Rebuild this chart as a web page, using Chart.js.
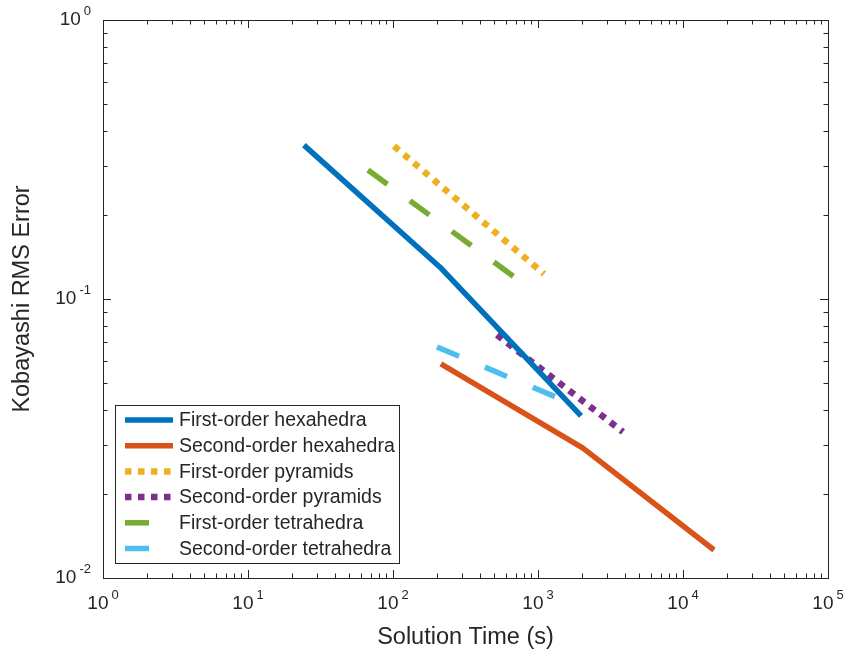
<!DOCTYPE html>
<html>
<head>
<meta charset="utf-8">
<script src="https://cdn.jsdelivr.net/npm/chart.js@4.4.1/dist/chart.umd.min.js"></script>
<style>
  html, body { margin: 0; padding: 0; background: #fff; }
  #wrap { width: 847px; height: 657px; }
</style>
</head>
<body>
<div id="wrap"><canvas id="chart" width="847" height="657"></canvas></div>
<script>
// solution time (s) vs. Kobayashi RMS error for each element type
const hexFirstTime  = [24.3, 211, 1981];
const hexFirstErr   = [0.356, 0.130, 0.0381];
const hexSecondTime = [214, 2043, 16360];
const hexSecondErr  = [0.0585, 0.0292, 0.0126];
const pyrFirstTime  = [101.6, 1100];
const pyrFirstErr   = [0.3535, 0.123];
const pyrSecondTime = [521, 3855];
const pyrSecondErr  = [0.0743, 0.0334];
const tetFirstTime  = [67.2, 716];
const tetFirstErr   = [0.290, 0.118];
const tetSecondTime = [201, 1374];
const tetSecondErr  = [0.0673, 0.0442];

const seriesLabels = [
    'First-order hexahedra', 'Second-order hexahedra',
    'First-order pyramids', 'Second-order pyramids',
    'First-order tetrahedra', 'Second-order tetrahedra'
];
const seriesColors = ['#0072BD', '#D95319', '#EDB120', '#7E2F8E', '#77AC30', '#4DBEEE'];

const xTickExponents = ['0', '1', '2', '3', '4', '5'];
const yTickExponents = ['-2', '-1', '0'];

const AXIS_COLOR = '#262626';
const FONT = '"Liberation Sans", Arial, Helvetica, sans-serif';
const SOLID = [];
const DOTTED = [6.5, 6.5];
const DASHED = [24, 28];

function toPoints(xs, ys) {
    return xs.map((x, i) => ({ x: x, y: ys[i] }));
}

function makeSeries(i, xs, ys, dash, width) {
    return {
        label: seriesLabels[i],
        data: toPoints(xs, ys),
        borderColor: seriesColors[i],
        backgroundColor: seriesColors[i],
        borderWidth: width,
        borderDash: dash,
        borderCapStyle: 'butt',
        borderJoinStyle: 'round',
        pointRadius: 0,
        tension: 0,
        fill: false
    };
}

const datasets = [
    makeSeries(0, hexFirstTime, hexFirstErr, SOLID, 5.5),
    makeSeries(1, hexSecondTime, hexSecondErr, SOLID, 5.5),
    makeSeries(2, pyrFirstTime, pyrFirstErr, DOTTED, 6.5),
    makeSeries(3, pyrSecondTime, pyrSecondErr, DOTTED, 6.5),
    makeSeries(4, tetFirstTime, tetFirstErr, DASHED, 5.5),
    makeSeries(5, tetSecondTime, tetSecondErr, DASHED, 5.5)
];

// "10" with a raised exponent, like the usual log axis labels
function drawPowerLabel(ctx, exp, x, y, align) {
    const baseFont = '19px ' + FONT;
    const supFont = '13px ' + FONT;
    ctx.font = baseFont;
    const baseW = ctx.measureText('10').width;
    ctx.font = supFont;
    const expW = ctx.measureText(exp).width;
    const gap = 3;
    const total = baseW + gap + expW;
    const left = align === 'center' ? x - total / 2 : x - total;
    ctx.textAlign = 'left';
    ctx.textBaseline = 'middle';
    ctx.fillStyle = AXIS_COLOR;
    ctx.font = baseFont;
    ctx.fillText('10', left, y);
    ctx.font = supFont;
    ctx.fillText(exp, left + baseW + gap, y - 9);
}

// box, inward major/minor ticks on all four sides, and decade labels
const axisFrame = {
    id: 'axisFrame',
    afterDatasetsDraw(chart) {
        const ctx = chart.ctx;
        const area = chart.chartArea;
        const xs = chart.scales.x;
        const ys = chart.scales.y;
        const majorLen = 8, minorLen = 4.5;

        ctx.save();
        ctx.strokeStyle = AXIS_COLOR;
        ctx.lineWidth = 1;
        ctx.setLineDash([]);

        ctx.strokeRect(Math.round(area.left) + 0.5, Math.round(area.top) + 0.5,
            Math.round(area.right - area.left), Math.round(area.bottom - area.top));

        ctx.beginPath();
        xTickExponents.forEach((e, k) => {
            const p = Number(e);
            for (let m = 1; m <= 9; m++) {
                if (m > 1 && k === xTickExponents.length - 1) break;
                const px = Math.round(xs.getPixelForValue(m * Math.pow(10, p))) + 0.5;
                const len = m === 1 ? majorLen : minorLen;
                ctx.moveTo(px, area.bottom); ctx.lineTo(px, area.bottom - len);
                ctx.moveTo(px, area.top); ctx.lineTo(px, area.top + len);
            }
        });
        yTickExponents.forEach((e, k) => {
            const p = Number(e);
            for (let m = 1; m <= 9; m++) {
                if (m > 1 && k === yTickExponents.length - 1) break;
                const py = Math.round(ys.getPixelForValue(m * Math.pow(10, p))) + 0.5;
                const len = m === 1 ? majorLen : minorLen;
                ctx.moveTo(area.left, py); ctx.lineTo(area.left + len, py);
                ctx.moveTo(area.right, py); ctx.lineTo(area.right - len, py);
            }
        });
        ctx.stroke();

        xTickExponents.forEach(e => {
            const px = xs.getPixelForValue(Math.pow(10, Number(e)));
            drawPowerLabel(ctx, e, px, area.bottom + 26, 'center');
        });
        yTickExponents.forEach(e => {
            const py = ys.getPixelForValue(Math.pow(10, Number(e)));
            drawPowerLabel(ctx, e, area.left - 12, py, 'right');
        });
        ctx.restore();
    }
};

const boxedLegend = {
    id: 'boxedLegend',
    afterDraw(chart) {
        const ctx = chart.ctx;
        const box = { left: 115, top: 405, right: 399, bottom: 563 };
        const rowTop = 420, rowStep = 25.7;
        ctx.save();
        ctx.fillStyle = '#fff';
        ctx.fillRect(box.left, box.top, box.right - box.left, box.bottom - box.top);
        ctx.strokeStyle = AXIS_COLOR;
        ctx.lineWidth = 1;
        ctx.setLineDash([]);
        ctx.strokeRect(box.left + 0.5, box.top + 0.5, box.right - box.left, box.bottom - box.top);

        chart.data.datasets.forEach((ds, i) => {
            const y = rowTop + i * rowStep;
            ctx.beginPath();
            ctx.strokeStyle = ds.borderColor;
            ctx.lineWidth = ds.borderWidth;
            ctx.lineCap = 'butt';
            ctx.setLineDash(ds.borderDash);
            ctx.moveTo(125, y);
            ctx.lineTo(173, y);
            ctx.stroke();

            ctx.setLineDash([]);
            ctx.fillStyle = AXIS_COLOR;
            ctx.font = '19.5px ' + FONT;
            ctx.textAlign = 'left';
            ctx.textBaseline = 'middle';
            ctx.fillText(ds.label, 179, y + 1);
        });
        ctx.restore();
    }
};

new Chart(document.getElementById('chart'), {
    type: 'line',
    data: { datasets: datasets },
    options: {
        responsive: false,
        animation: false,
        devicePixelRatio: 1,
        layout: { padding: { top: 20, right: 19, left: 0, bottom: 0 } },
        plugins: {
            legend: { display: false },
            tooltip: { enabled: false }
        },
        scales: {
            x: {
                type: 'logarithmic',
                min: 1,
                max: 100000,
                grid: { display: false },
                border: { display: false },
                ticks: { display: false },
                title: {
                    display: true,
                    text: 'Solution Time (s)',
                    color: AXIS_COLOR,
                    font: { family: FONT, size: 23.5 },
                    padding: { top: 0, bottom: 5 }
                },
                afterFit: s => { s.height = 79; }
            },
            y: {
                type: 'logarithmic',
                min: 0.01,
                max: 1,
                grid: { display: false },
                border: { display: false },
                ticks: { display: false },
                title: {
                    display: true,
                    text: 'Kobayashi RMS Error',
                    color: AXIS_COLOR,
                    font: { family: FONT, size: 23.5 },
                    padding: { top: 8, bottom: 0 }
                },
                afterFit: s => { s.width = 103; }
            }
        }
    },
    plugins: [axisFrame, boxedLegend]
});
</script>
</body>
</html>
